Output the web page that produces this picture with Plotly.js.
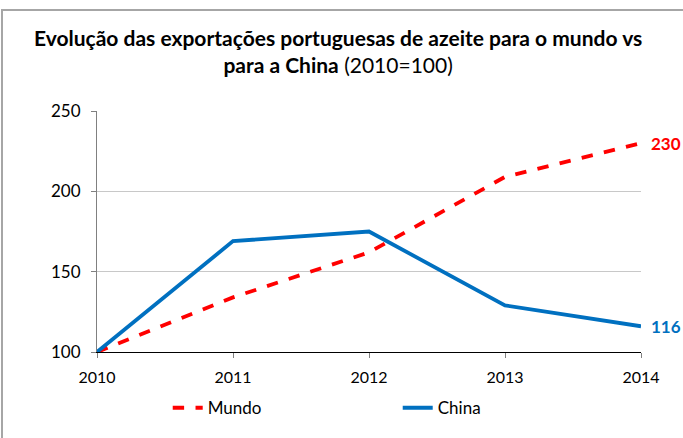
<!DOCTYPE html>
<html>
<head>
<meta charset="utf-8">
<script src="https://cdn.plot.ly/plotly-3.0.1.min.js"></script>
<style>
  body { margin: 0; background: #fff; }
  #chart { width: 683px; height: 438px; }
  #frame {
    position: absolute; left: 1px; top: 9px; width: 720px; height: 460px;
    border: 2px solid #a6a6a6; pointer-events: none;
  }
</style>
</head>
<body>
<div id="chart"></div>
<div id="frame"></div>
<script>
const years = ['2010', '2011', '2012', '2013', '2014'];
const mundo = [100, 134, 162, 209, 230];
const china = [100, 169, 175, 129, 116];

const font = 'Lato, "Open Sans", sans-serif';
const last = years.length - 1;

Plotly.newPlot(
  'chart',
  [
    {
      x: years,
      y: mundo,
      mode: 'lines',
      type: 'scatter',
      name: 'Mundo',
      line: { color: '#ff0000', width: 3.8, dash: 'dash' },
    },
    {
      x: years,
      y: china,
      mode: 'lines',
      type: 'scatter',
      name: 'China',
      line: { color: '#0070c0', width: 3.8 },
    },
  ],
  {
    width: 683,
    height: 438,
    margin: { l: 97, r: 42, t: 111, b: 86 },
    paper_bgcolor: '#fff',
    plot_bgcolor: '#fff',
    font: { family: font, size: 16, color: '#000' },
    title: {
      text:
        '<b>Evolução das exportações portuguesas de azeite para o mundo vs<br>para a China</b> (2010=100)',
      font: { family: font, size: 21, color: '#000' },
      x: 0.495,
      xanchor: 'center',
      y: 0.895,
      yanchor: 'middle',
    },
    xaxis: {
      type: 'category',
      range: [0, last],
      automargin: false,
      showgrid: false,
      showline: true,
      linecolor: '#000',
      linewidth: 1,
      ticks: 'outside',
      ticklen: 5,
      tickcolor: '#808080',
      ticklabelstandoff: 6,
      tickfont: { family: font, size: 16 },
      zeroline: false,
      fixedrange: true,
    },
    yaxis: {
      range: [100, 250],
      tickvals: [100, 150, 200, 250],
      automargin: false,
      showgrid: true,
      gridcolor: '#c8c8c8',
      showline: true,
      linecolor: '#808080',
      linewidth: 1,
      ticks: 'outside',
      ticklen: 5,
      tickcolor: '#808080',
      ticklabelstandoff: 7,
      tickfont: { family: font, size: 17 },
      zeroline: false,
      fixedrange: true,
    },
    showlegend: true,
    legend: {
      orientation: 'h',
      x: 0.13,
      xanchor: 'left',
      yref: 'container',
      y: 0.068,
      yanchor: 'middle',
      font: { family: font, size: 17 },
      entrywidth: 185,
      entrywidthmode: 'pixels',
    },
    annotations: [
      {
        xref: 'x',
        yref: 'y',
        x: last,
        y: mundo[last],
        text: '<b>' + mundo[last] + '</b>',
        showarrow: false,
        xanchor: 'left',
        xshift: 8,
        font: { family: font, size: 17, color: '#ff0000' },
      },
      {
        xref: 'x',
        yref: 'y',
        x: last,
        y: china[last],
        text: '<b>' + china[last] + '</b>',
        showarrow: false,
        xanchor: 'left',
        xshift: 8,
        font: { family: font, size: 17, color: '#0070c0' },
      },
    ],
  },
  { displayModeBar: false, staticPlot: true }
);
</script>
</body>
</html>
